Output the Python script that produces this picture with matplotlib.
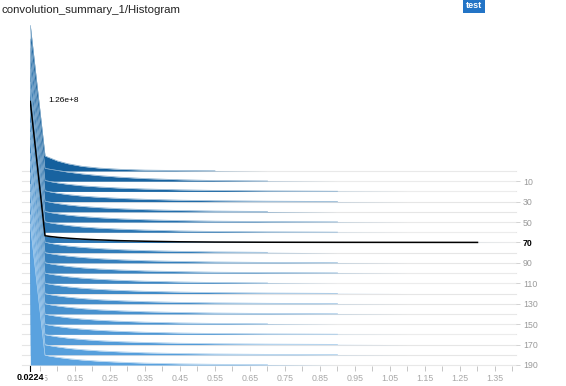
import matplotlib
matplotlib.use("Agg")
import matplotlib.pyplot as plt
import numpy as np
from matplotlib.colors import to_rgb

plt.rcParams['font.family'] = ['Liberation Sans', 'DejaVu Sans']

title = "convolution_summary_1/Histogram"
run_name = "test"

# histogram bin centres (value axis)
bin_x = [0.0224, 0.0644, 0.08, 0.10, 0.13, 0.17, 0.22, 0.28, 0.35, 0.45,
         0.55, 0.70, 0.90, 1.10, 1.30, 1.41]

steps = [0, 10, 20, 30, 40, 50, 60, 70, 80, 90,
         100, 110, 120, 130, 140, 150, 160, 170, 180, 190]

# counts in millions, one row per step
counts = [
    [130, 13.5, 11.5, 9.0, 6.5, 4.2, 2.6, 1.5, 0.8, 0.4, 0.2, 0, 0, 0, 0, 0],
    [127, 11.5, 10.6, 9.6, 8.2, 6.6, 5.0, 3.6, 2.4, 1.3, 0.6, 0.2, 0, 0, 0, 0],
    [128, 9.8, 8.8, 7.7, 6.4, 5.1, 4.0, 3.0, 2.2, 1.4, 0.9, 0.45, 0.15, 0, 0, 0],
    [126, 9.7, 8.7, 7.6, 6.3, 5.0, 3.9, 2.9, 2.1, 1.3, 0.8, 0.4, 0.12, 0, 0, 0],
    [127, 9.6, 8.6, 7.5, 6.2, 4.9, 3.8, 2.8, 2.0, 1.2, 0.7, 0.3, 0, 0, 0, 0],
    [125, 9.5, 8.5, 7.5, 6.2, 5.0, 3.9, 2.9, 2.1, 1.3, 0.8, 0.4, 0.15, 0, 0, 0],
    [128, 9.4, 8.4, 7.4, 6.1, 4.8, 3.7, 2.8, 2.0, 1.2, 0.7, 0.35, 0.1, 0, 0, 0],
    [126, 6.0, 5.3, 4.6, 3.8, 3.0, 2.3, 1.6, 1.1, 0.6, 0.35, 0.2, 0.12, 0.08, 0.05, 0],
    [127, 9.4, 8.4, 7.3, 6.0, 4.8, 3.7, 2.7, 1.9, 1.2, 0.7, 0.3, 0, 0, 0, 0],
    [125, 9.2, 8.3, 7.3, 6.1, 4.9, 3.8, 2.8, 2.0, 1.3, 0.8, 0.4, 0.15, 0, 0, 0],
    [126, 9.3, 8.3, 7.3, 6.0, 4.8, 3.7, 2.8, 2.0, 1.3, 0.8, 0.45, 0.18, 0, 0, 0],
    [128, 9.1, 8.2, 7.2, 5.9, 4.7, 3.6, 2.7, 1.9, 1.2, 0.7, 0.3, 0, 0, 0, 0],
    [125, 9.2, 8.3, 7.3, 6.0, 4.8, 3.7, 2.8, 2.0, 1.3, 0.8, 0.4, 0.12, 0, 0, 0],
    [127, 9.0, 8.1, 7.1, 5.9, 4.7, 3.6, 2.7, 1.9, 1.2, 0.75, 0.38, 0.12, 0, 0, 0],
    [126, 9.1, 8.2, 7.2, 6.0, 4.8, 3.7, 2.8, 2.0, 1.3, 0.8, 0.4, 0.15, 0, 0, 0],
    [125, 8.9, 8.0, 7.0, 5.8, 4.6, 3.5, 2.6, 1.8, 1.1, 0.65, 0.3, 0, 0, 0, 0],
    [127, 9.0, 8.1, 7.1, 5.9, 4.7, 3.6, 2.7, 1.9, 1.2, 0.75, 0.38, 0.12, 0, 0, 0],
    [126, 8.9, 8.0, 7.0, 5.8, 4.6, 3.5, 2.6, 1.9, 1.2, 0.75, 0.4, 0.15, 0, 0, 0],
    [125, 9.0, 8.1, 7.1, 5.8, 4.6, 3.5, 2.6, 1.8, 1.1, 0.7, 0.35, 0.1, 0, 0, 0],
    [126, 8.8, 7.9, 6.9, 5.7, 4.5, 3.4, 2.5, 1.7, 1.0, 0.6, 0.25, 0, 0, 0, 0],
]

step_labels = [10, 30, 50, 70, 90, 110, 130, 150, 170, 190]
hover_step = 70
hover_label = "1.26e+8"
x_labels = [0.05, 0.15, 0.25, 0.35, 0.45, 0.55, 0.65, 0.75, 0.85, 0.95,
            1.05, 1.15, 1.25, 1.35]
x_minor = [0.10, 0.20, 0.30, 0.40, 0.50, 0.60, 0.70, 0.80, 0.90, 1.00,
           1.10, 1.20, 1.30, 1.40]
x_min_label = "0.0224"

W, H = 566, 386
fig = plt.figure(figsize=(W / 100, H / 100), dpi=100)
ax = fig.add_axes([30.3 / W, (H - 366) / H, (516 - 30.3) / W, 346 / H])

x = np.array(bin_x)
xmin, xmax = 0.0224, 1.41
ax.set_xlim(xmin, xmax)
ax.set_ylim(191.0, -147.9)
k = 1.096  # step units per million counts

c0 = np.array(to_rgb("#14609d"))
c1 = np.array(to_rgb("#5aa2df"))
n = len(steps)

# baselines
for s in steps:
    ax.plot([0.0, xmax], [s, s], color="#e6e6e6", lw=0.8, zorder=1, clip_on=False)

for i, (s, row) in enumerate(zip(steps, counts)):
    col = c0 + (c1 - c0) * i / (n - 1)
    r = np.array(row, dtype=float)
    top = s - r * k
    ax.fill_between(x, s, top, color=col, lw=0, zorder=2 + i)
    ax.plot(x, top, color="white", lw=0.35, alpha=0.5, zorder=2 + i)
    pos = r > 0
    light = col + (1 - col) * 0.45
    ax.plot(x[pos], top[pos], color=light, lw=0.5, zorder=2 + i)
    if s == hover_step:
        hover_top = top
        hover_pos = pos

ax.plot(x[hover_pos], hover_top[hover_pos], color="black", lw=1.1, zorder=50)
ax.annotate(hover_label, (x[0], hover_top[0]), xytext=(13, 1), textcoords="offset points",
            fontsize=6, color="black", va="center", ha="left", zorder=60)

for sp in ax.spines.values():
    sp.set_visible(False)

ax.yaxis.tick_right()
ax.set_yticks(step_labels)
ax.set_yticklabels([str(v) for v in step_labels])
ax.tick_params(axis="y", length=3, width=0.6, color="#cccccc", labelcolor="#9a9a9a",
               labelsize=6.3, pad=2)
for lab in ax.get_yticklabels():
    if lab.get_text() == str(hover_step):
        lab.set_color("black")
        lab.set_fontweight("bold")

ax.set_xticks(x_labels)
ax.set_xticklabels([f"{v:.2f}" for v in x_labels])
ax.set_xticks(x_minor, minor=True)
ax.tick_params(axis="x", which="both", length=3.5, width=0.6, color="#bbbbbb",
               labelcolor="#a8a8a8", labelsize=6.3, pad=2.5)

# min value marker
ax.plot([xmin, xmin], [191.0, 195.5], color="black", lw=0.8, clip_on=False, zorder=70)
ax.annotate(x_min_label, (xmin, 0), xycoords=("data", "axes fraction"),
            xytext=(0, -8.5), textcoords="offset points", ha="center", va="center",
            fontsize=6.5, fontweight="bold", color="black", zorder=80,
            bbox=dict(boxstyle="square,pad=0.1", fc="white", ec="none"))

fig.text(2 / W, 1 - 10 / H, title, fontsize=8.2, color="#222222", va="center", ha="left")
fig.text(474 / W, 1 - 5.5 / H, run_name, fontsize=6.5, color="white", fontweight="bold",
         va="center", ha="center",
         bbox=dict(boxstyle="square,pad=0.35", fc="#2374c6", ec="none"))

fig.savefig("out.png", dpi=100)
